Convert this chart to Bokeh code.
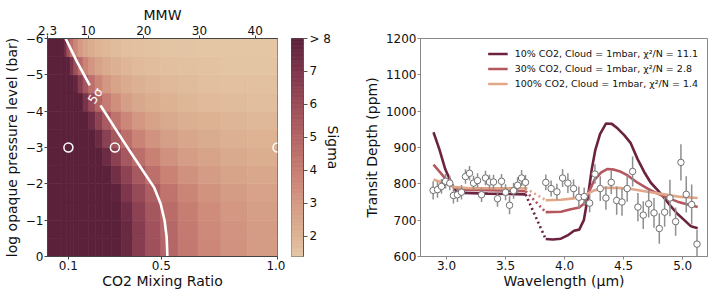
import numpy as np
from bokeh.plotting import figure
from bokeh.models import (Range1d, LinearAxis, FixedTicker, LinearColorMapper, Label,
                          ColumnDataSource, Legend, LegendItem)
from bokeh.layouts import row
from bokeh.transform import transform
from bokeh.embed import file_html
from bokeh.resources import INLINE

FONT = "DejaVu Sans"

# ---------------- left panel: significance map ----------------
co2_edges = [0.01, 0.0705, 0.0811, 0.0933, 0.1072, 0.1233, 0.1417, 0.1630, 0.1874, 0.2154,
             0.2477, 0.2848, 0.3275, 0.3765, 0.4329, 0.4977, 0.5722, 0.6579, 0.7565, 0.8697, 1.0]
logp_edges = [0.0, -0.5, -1.0, -1.5, -2.0, -2.5, -3.0, -3.5, -4.0, -4.5, -5.0, -5.5, -6.0]

# sigma per column (20 columns) for each 0.5-dex pressure band; 9 means "> 8"
sigma_p025 = [9, 9, 9, 9, 9, 9, 9, 9, 9, 9, 9, 9, 7.60, 6.70, 5.80, 4.90, 4.17, 3.64, 3.26, 2.97]
sigma_p075 = [9, 9, 9, 9, 9, 9, 9, 9, 9, 9, 9, 9, 7.59, 6.67, 5.74, 4.83, 4.11, 3.58, 3.20, 2.92]
sigma_p125 = [9, 9, 9, 9, 9, 9, 9, 9, 9, 9, 9, 9, 7.38, 6.47, 5.55, 4.66, 3.97, 3.47, 3.10, 2.83]
sigma_p175 = [9, 9, 9, 9, 9, 9, 9, 9, 9, 9, 9, 7.88, 6.99, 6.10, 5.21, 4.37, 3.73, 3.27, 2.93, 2.68]
sigma_p225 = [9, 9, 9, 9, 9, 9, 9, 9, 9, 9, 9, 7.31, 6.38, 5.45, 4.54, 3.83, 3.31, 2.94, 2.66, 2.45]
sigma_p275 = [9, 9, 9, 9, 9, 9, 9, 9, 9, 9, 7.45, 6.49, 5.54, 4.60, 3.85, 3.30, 2.90, 2.60, 2.39, 2.23]
sigma_p325 = [9, 9, 9, 9, 9, 9, 9, 9, 9, 7.49, 6.52, 5.55, 4.58, 3.81, 3.24, 2.83, 2.52, 2.30, 2.14, 2.02]
sigma_p375 = [9, 9, 9, 9, 9, 9, 9, 9, 7.40, 6.39, 5.38, 4.40, 3.65, 3.10, 2.70, 2.40, 2.19, 2.03, 1.91, 1.83]
sigma_p425 = [9, 9, 9, 9, 9, 9, 9, 7.09, 6.03, 4.97, 4.04, 3.36, 2.86, 2.49, 2.23, 2.03, 1.89, 1.78, 1.71, 1.65]
sigma_p475 = [9, 9, 9, 9, 9, 7.75, 6.68, 5.60, 4.55, 3.71, 3.11, 2.66, 2.34, 2.10, 1.93, 1.80, 1.71, 1.63, 1.58, 1.55]
sigma_p525 = [9, 9, 9, 9, 7.11, 5.88, 4.69, 3.80, 3.16, 2.69, 2.34, 2.09, 1.90, 1.77, 1.67, 1.60, 1.54, 1.51, 1.48, 1.46]
sigma_p575 = [9, 9, 7.34, 5.76, 4.46, 3.63, 3.03, 2.59, 2.26, 2.02, 1.85, 1.72, 1.63, 1.57, 1.52, 1.48, 1.45, 1.43, 1.42, 1.41]
sigma_bands = [sigma_p025, sigma_p075, sigma_p125, sigma_p175, sigma_p225, sigma_p275,
               sigma_p325, sigma_p375, sigma_p425, sigma_p475, sigma_p525, sigma_p575]

# 5 sigma contour, split where the label sits
contour_co2_upper = [0.088, 0.138, 0.192]
contour_logp_upper = [-6.0, -5.35, -4.71]
contour_co2_lower = [0.238, 0.335, 0.382, 0.425, 0.468, 0.497, 0.514, 0.523, 0.526]
contour_logp_lower = [-4.16, -3.19, -2.73, -2.32, -1.91, -1.45, -0.99, -0.53, 0.0]

model_co2 = [0.1, 0.3, 1.0]
model_logp = [-3.0, -3.0, -3.0]

co2_ticks = [0.1, 0.5, 1.0]
logp_ticks = [-6, -5, -4, -3, -2, -1, 0]
mmw_ticks = [2.3, 10, 20, 30, 40]
sigma_ticks = [2, 3, 4, 5, 6, 7, 8]

# ---------------- right panel: spectrum ----------------
obs_wl = [2.887, 2.924, 2.958, 2.992, 3.028, 3.059, 3.093, 3.127, 3.161, 3.195, 3.229, 3.263,
          3.297, 3.330, 3.364, 3.398, 3.432, 3.466, 3.500, 3.534, 3.568, 3.602, 3.636, 3.669,
          3.841, 3.886, 3.935, 3.983, 4.028, 4.076, 4.121, 4.166, 4.212, 4.257, 4.302, 4.350,
          4.395, 4.441, 4.486, 4.530, 4.576, 4.621, 4.666, 4.712, 4.757, 4.802, 4.847, 4.892,
          4.940, 4.985, 5.030, 5.076, 5.121]
obs_depth = [782, 784, 793, 807, 802, 768, 770, 777, 820, 829, 802, 809,
             770, 816, 805, 805, 759, 807, 777, 741, 781, 796, 816, 804,
             804, 787, 778, 816, 802, 787, 763, 765, 747, 827, 787, 761,
             804, 754, 750, 787, 834, 736, 714, 745, 720, 677, 722, 761,
             696, 859, 771, 743, 634]
obs_err = [25, 22, 20, 20, 20, 22, 20, 20, 20, 20, 20, 20,
           20, 20, 20, 20, 22, 20, 22, 25, 22, 22, 22, 20,
           22, 22, 22, 25, 27, 25, 30, 25, 25, 27, 34, 32,
           33, 39, 38, 36, 41, 39, 38, 38, 41, 42, 40, 50,
           39, 50, 50, 55, 39]

m10_wl_a = [2.89, 2.94, 2.99, 3.05, 3.08, 3.15, 3.35, 3.67]
m10_a = [942, 895, 840, 796, 781, 775, 773, 771]
m10_wl_b = [3.84, 3.90, 3.969, 4.025, 4.08, 4.124, 4.163, 4.20, 4.23, 4.26, 4.30, 4.35, 4.40,
            4.45, 4.505, 4.56, 4.618, 4.675, 4.73, 4.79, 4.844, 4.90, 4.957, 5.014, 5.07, 5.127]
m10_b = [648, 647, 649, 658, 671, 674, 700, 770, 840, 893, 937, 966, 965,
         952, 934, 912, 868, 832, 803, 782, 761, 738, 717, 700, 683, 678]

m30_wl_a = [2.89, 2.95, 3.01, 3.065, 3.15, 3.67]
m30_a = [853, 830, 807, 790, 784, 780]
m30_wl_b = [3.84, 3.969, 4.053, 4.124, 4.166, 4.209, 4.251, 4.308, 4.364, 4.42, 4.477, 4.534,
            4.618, 4.703, 4.788, 4.873, 4.957, 5.042, 5.127]
m30_b = [722, 723, 730, 735, 746, 780, 810, 831, 841, 839, 833, 823,
         803, 787, 773, 761, 751, 743, 736]

m100_wl_a = [2.89, 2.98, 3.065, 3.2, 3.67]
m100_a = [812, 802, 791, 788, 788]
m100_wl_b = [3.84, 3.969, 4.081, 4.166, 4.251, 4.336, 4.449, 4.562, 4.703, 4.844, 4.985, 5.127]
m100_b = [755, 756, 760, 768, 782, 789, 789, 786, 778, 771, 764, 761]

labels = ["10% CO2, Cloud = 1mbar, \u03c7\u00b2/N = 11.1",
          "30% CO2, Cloud = 1mbar, \u03c7\u00b2/N = 2.8",
          "100% CO2, Cloud = 1mbar, \u03c7\u00b2/N = 1.4"]
line_colors = ["#6b2340", "#b5575f", "#e2a688"]

wl_ticks = [3.0, 3.5, 4.0, 4.5, 5.0]
depth_ticks = [600, 700, 800, 900, 1000, 1100, 1200]

# ---------------- colour map (style) ----------------
cmap_levels = [1.38, 2.0, 2.5, 3.0, 3.5, 4.0, 4.5, 5.0, 5.5, 6.0, 6.5, 7.0, 7.5, 8.0]
cmap_colors = ["#e4c6a5", "#ddb394", "#d8a78b", "#d49a84", "#ce8b7a", "#c77d72", "#bd706b",
               "#b36466", "#a7585f", "#9a4c58", "#8b4152", "#7d364b", "#6c2b43", "#5b213b"]


def build_palette(levels, colors, n=256):
    rgb = np.array([[int(c[i:i + 2], 16) for i in (1, 3, 5)] for c in colors], float)
    ts = np.linspace(levels[0], levels[-1], n)
    pal = []
    for t in ts:
        r, g, b = (np.interp(t, levels, rgb[:, k]) for k in range(3))
        pal.append("#%02x%02x%02x" % (int(round(r)), int(round(g)), int(round(b))))
    return pal


palette = build_palette(cmap_levels, cmap_colors)
mapper = LinearColorMapper(palette=palette, low=cmap_levels[0], high=cmap_levels[-1],
                           low_color=palette[0], high_color=palette[-1])

TXT = "#111111"


def style_axis(ax, color):
    ax.major_label_text_font = FONT
    ax.major_label_text_font_size = "12px"
    ax.major_label_text_color = TXT
    ax.axis_label_text_font = FONT
    ax.axis_label_text_font_size = "14px"
    ax.axis_label_text_font_style = "normal"
    ax.axis_label_text_color = TXT
    ax.axis_line_color = color
    ax.major_tick_line_color = color
    ax.major_tick_in = 0
    ax.major_tick_out = 3
    ax.minor_tick_line_color = None
    ax.major_label_standoff = 1
    ax.axis_label_standoff = 0


def minus(v):
    return ("%g" % v).replace("-", "\u2212")


H = 296
TOP1, BOT = 38, 40

# ---------------- left figure ----------------
p1 = figure(width=285, height=H, x_range=Range1d(co2_edges[0], co2_edges[-1]),
            y_range=Range1d(logp_edges[0], logp_edges[-1]),
            output_backend="svg", toolbar_location=None,
            min_border_left=47, min_border_right=8, min_border_top=TOP1, min_border_bottom=BOT)
p1.xgrid.grid_line_color = None
p1.ygrid.grid_line_color = None
p1.outline_line_color = "#444444"
p1.background_fill_color = "white"

lefts, rights, tops, bottoms, sig = [], [], [], [], []
for k, band in enumerate(sigma_bands):
    for i, s in enumerate(band):
        lefts.append(co2_edges[i]); rights.append(co2_edges[i + 1])
        bottoms.append(logp_edges[k]); tops.append(logp_edges[k + 1])
        sig.append(s)
hsrc = ColumnDataSource(dict(left=lefts, right=rights, top=tops, bottom=bottoms, sigma=sig))
p1.quad(left="left", right="right", top="top", bottom="bottom", source=hsrc,
        fill_color=transform("sigma", mapper), line_color=transform("sigma", mapper), line_width=0.7)

p1.line(contour_co2_upper, contour_logp_upper, line_color="white", line_width=2.6)
p1.line(contour_co2_lower, contour_logp_lower, line_color="white", line_width=2.6)
p1.scatter(model_co2, model_logp, size=9, fill_color=None, line_color="white", line_width=1.5)
p1.add_layout(Label(x=0.215, y=-4.43, text="5\u03c3", angle=57, angle_units="deg",
                    text_color="white", text_font=FONT, text_font_size="12.5px",
                    text_align="center", text_baseline="middle"))

style_axis(p1.xaxis[0], "#444444")
p1.xaxis[0].ticker = FixedTicker(ticks=co2_ticks)
p1.xaxis[0].major_label_overrides = {t: "%.1f" % t for t in co2_ticks}
p1.xaxis[0].axis_label = "CO2 Mixing Ratio"
style_axis(p1.yaxis[0], "#444444")
p1.yaxis[0].ticker = FixedTicker(ticks=logp_ticks)
p1.yaxis[0].major_label_overrides = {t: minus(t) for t in logp_ticks}
p1.yaxis[0].axis_label = "log opaque pressure level (bar)"
p1.yaxis[0].axis_label_standoff = 3

# top axis: mean molecular weight of an H2/CO2 mixture
mmw_pos = [max(co2_edges[0], (m - 2.3) / (44.0 - 2.3)) for m in mmw_ticks]
top_ax = LinearAxis(ticker=FixedTicker(ticks=mmw_pos),
                    major_label_overrides={pp: ("%g" % m) for pp, m in zip(mmw_pos, mmw_ticks)},
                    axis_label="MMW")
style_axis(top_ax, "#444444")
p1.add_layout(top_ax, "above")

# ---------------- colour bar figure ----------------
pcb = figure(width=60, height=H, x_range=Range1d(0, 1),
             y_range=Range1d(cmap_levels[0], cmap_levels[-1]),
             output_backend="svg", toolbar_location=None, x_axis_location=None,
             y_axis_location="right",
             min_border_left=6, min_border_right=42, min_border_top=TOP1, min_border_bottom=BOT)
pcb.xgrid.grid_line_color = None
pcb.ygrid.grid_line_color = None
pcb.outline_line_color = "#555555"
cb_lv = np.linspace(cmap_levels[0], cmap_levels[-1], 160)
cb_cols = [palette[min(255, int((v - cmap_levels[0]) / (cmap_levels[-1] - cmap_levels[0]) * 255))]
           for v in 0.5 * (cb_lv[:-1] + cb_lv[1:])]
pcb.quad(left=0, right=1, bottom=cb_lv[:-1], top=cb_lv[1:],
         fill_color=cb_cols, line_color=cb_cols, line_width=0.8)
cax = pcb.yaxis[0]
style_axis(cax, "#555555")
cax.major_tick_out = 4
cax.major_label_standoff = 2
cax.ticker = FixedTicker(ticks=sigma_ticks)
cax.major_label_overrides = {t: ("> %d" % t if t == sigma_ticks[-1] else "%d" % t) for t in sigma_ticks}
cax.axis_label = "Sigma"
cax.axis_label_standoff = -9

# ---------------- right figure ----------------
p2 = figure(width=369, height=H, x_range=Range1d(2.78, 5.21), y_range=Range1d(600, 1200),
            output_backend="svg", toolbar_location=None,
            min_border_left=75, min_border_right=7, min_border_top=36, min_border_bottom=BOT)
p2.xgrid.grid_line_color = None
p2.ygrid.grid_line_color = None
p2.outline_line_color = "#888888"

rends = []
for wa, ya, wb, yb, col in [(m10_wl_a, m10_a, m10_wl_b, m10_b, line_colors[0]),
                            (m30_wl_a, m30_a, m30_wl_b, m30_b, line_colors[1]),
                            (m100_wl_a, m100_a, m100_wl_b, m100_b, line_colors[2])]:
    p2.line(wa, ya, line_color=col, line_width=2.6)
    rb = p2.line(wb, yb, line_color=col, line_width=2.6)
    p2.line([wa[-1], wb[0]], [ya[-1], yb[0]], line_color=col, line_width=2.6, line_dash="2 3")
    rends.append(rb)

lo = [d - e for d, e in zip(obs_depth, obs_err)]
hi = [d + e for d, e in zip(obs_depth, obs_err)]
p2.segment(x0=obs_wl, y0=lo, x1=obs_wl, y1=hi, line_color="#8f8f8f", line_width=1.5)
p2.scatter(obs_wl, obs_depth, size=6.5, fill_color="white", line_color="#707070", line_width=1)

style_axis(p2.xaxis[0], "#888888")
p2.xaxis[0].ticker = FixedTicker(ticks=wl_ticks)
p2.xaxis[0].major_label_overrides = {t: "%.1f" % t for t in wl_ticks}
p2.xaxis[0].axis_label = "Wavelength (\u03bcm)"
style_axis(p2.yaxis[0], "#888888")
p2.yaxis[0].ticker = FixedTicker(ticks=depth_ticks)
p2.yaxis[0].axis_label = "Transit Depth (ppm)"
p2.yaxis[0].axis_label_standoff = 3

legend = Legend(items=[LegendItem(label=l, renderers=[r]) for l, r in zip(labels, rends)],
                location="top_right")
legend.margin = 2
legend.padding = 7
legend.spacing = 2
legend.label_height = 13
legend.glyph_height = 13
legend.glyph_width = 20
legend.label_standoff = 7
legend.label_text_font = FONT
legend.label_text_font_size = "9.5px"
legend.label_text_color = TXT
legend.border_line_alpha = 0
legend.background_fill_alpha = 0
p2.add_layout(legend)

layout = row(p1, pcb, p2)
open("out.html", "w").write(file_html(layout, INLINE))
